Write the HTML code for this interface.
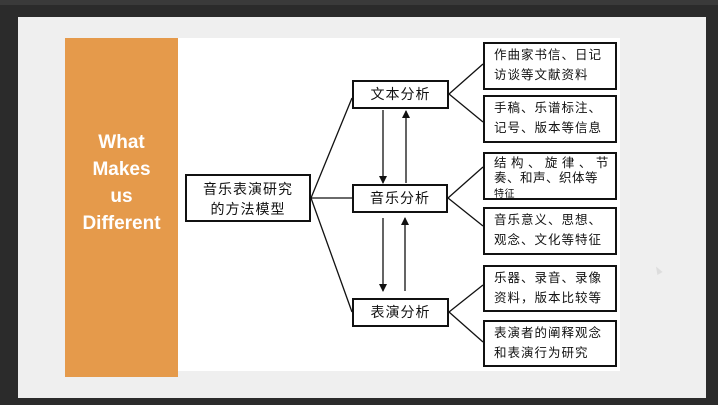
<!DOCTYPE html>
<html><head><meta charset="utf-8"><style>
body{margin:0;width:718px;height:405px;background:#2b2b2b;overflow:hidden;position:relative;font-family:"Liberation Sans","Noto Sans CJK SC",sans-serif}
.a{position:absolute}
.bx{position:absolute;border:2px solid #111;background:#fff;box-sizing:border-box;color:#111}
.r{font-size:12.5px;line-height:20px;padding:0 0 0 9px;letter-spacing:1px;white-space:nowrap}
.m{font-size:14px;text-align:center;letter-spacing:1px}
</style></head><body>
<div class="a" style="left:0;top:0;width:718px;height:5px;background:#3a3a3a"></div>
<div class="a" style="left:18px;top:17px;width:688px;height:381px;background:#efefef"></div>
<div class="a" style="left:178px;top:38px;width:442px;height:333px;background:#fff"></div>
<div class="a" style="left:65px;top:38px;width:113px;height:339px;background:#e59a4b"></div>
<div class="a" style="left:65px;top:129px;width:113px;color:#fff;font-weight:bold;font-size:19px;line-height:27px;text-align:center">What<br>Makes<br>us<br>Different</div>
<svg class="a" style="left:0;top:0" width="718" height="405">
<defs><marker id="h" markerWidth="8" markerHeight="8" refX="7" refY="4" orient="auto" markerUnits="userSpaceOnUse"><path d="M0,0 L8,4 L0,8z" fill="#111"/></marker></defs>
<g stroke="#111" stroke-width="1.3" fill="none">
<line x1="311" y1="198" x2="352" y2="98"/><line x1="311" y1="198" x2="352" y2="198"/><line x1="311" y1="198" x2="352" y2="312"/>
<line x1="449" y1="94" x2="483" y2="64"/><line x1="449" y1="94" x2="483" y2="122"/>
<line x1="448" y1="198" x2="483" y2="167"/><line x1="448" y1="198" x2="483" y2="226"/>
<line x1="449" y1="312" x2="483" y2="285"/><line x1="449" y1="312" x2="483" y2="342"/>
<line x1="383" y1="110" x2="383" y2="183" marker-end="url(#h)"/>
<line x1="406" y1="183" x2="406" y2="111" marker-end="url(#h)"/>
<line x1="383" y1="218" x2="383" y2="291" marker-end="url(#h)"/>
<line x1="405" y1="291" x2="405" y2="218" marker-end="url(#h)"/>
</g></svg>
<div class="bx m" style="left:185px;top:174px;width:126px;height:48px;padding-top:3px;line-height:20px">音乐表演研究<br>的方法模型</div>
<div class="bx m" style="left:352px;top:80px;width:97px;height:29px;line-height:25px">文本分析</div>
<div class="bx m" style="left:352px;top:184px;width:96px;height:29px;line-height:25px">音乐分析</div>
<div class="bx m" style="left:352px;top:298px;width:97px;height:29px;line-height:25px">表演分析</div>
<div class="bx r" style="left:483px;top:42px;width:134px;height:48px;padding-top:1px">作曲家书信、日记<br>访谈等文献资料</div>
<div class="bx r" style="left:483px;top:95px;width:134px;height:48px;padding-top:1px">手稿、乐谱标注、<br>记号、版本等信息</div>
<div class="bx r" style="left:483px;top:152px;width:134px;height:48px;line-height:15px;overflow:hidden;letter-spacing:0.5px;padding-top:2px">结 构 、 旋 律 、 节<br>奏、和声、织体等<br><span style="font-size:10px">特征</span></div>
<div class="bx r" style="left:483px;top:207px;width:134px;height:48px;padding-top:1px">音乐意义、思想、<br>观念、文化等特征</div>
<div class="bx r" style="left:483px;top:265px;width:134px;height:47px;padding-top:1px">乐器、录音、录像<br>资料，版本比较等</div>
<div class="bx r" style="left:483px;top:320px;width:134px;height:47px;padding-top:1px">表演者的阐释观念<br>和表演行为研究</div>
<div class="a" style="left:655px;top:266px;width:0;height:0;border-left:3px solid transparent;border-right:3px solid transparent;border-bottom:8px solid #ddd;transform:rotate(-30deg)"></div>
</body></html>
